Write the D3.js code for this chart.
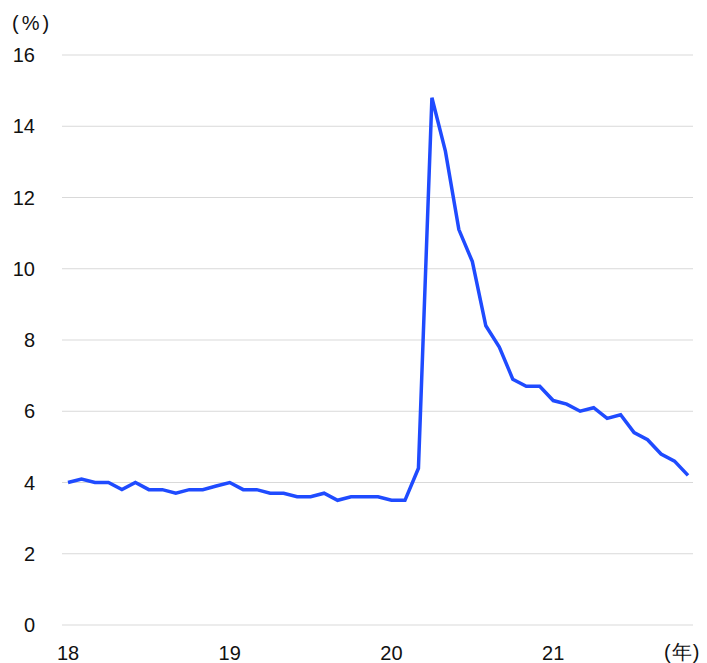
<!DOCTYPE html>
<html><head><meta charset="utf-8">
<script src="https://cdn.jsdelivr.net/npm/d3@7"></script>
<style>body{margin:0;background:#fff;}text{font-family:Arial,"Liberation Sans",sans-serif;}</style>
</head><body><svg id="c" width="707" height="663"></svg>
<script>
const values2018 = [4.0, 4.1, 4.0, 4.0, 3.8, 4.0, 3.8, 3.8, 3.7, 3.8, 3.8, 3.9];
const values2019 = [4.0, 3.8, 3.8, 3.7, 3.7, 3.6, 3.6, 3.7, 3.5, 3.6, 3.6, 3.6];
const values2020 = [3.5, 3.5, 4.4, 14.8, 13.3, 11.1, 10.2, 8.4, 7.8, 6.9, 6.7, 6.7];
const values2021 = [6.3, 6.2, 6.0, 6.1, 5.8, 5.9, 5.4, 5.2, 4.8, 4.6, 4.2];
const yTicks = [0, 2, 4, 6, 8, 10, 12, 14, 16];
const xTickLabels = ["18", "19", "20", "21"];

const data = [].concat(values2018, values2019, values2020, values2021).map((v, i) => ({i, v}));
const svg = d3.select("#c");
const x = d3.scaleLinear().domain([0, 46]).range([68, 688]);
const y = d3.scaleLinear().domain([0, 16]).range([625, 55]);

svg.append("g").selectAll("line").data(yTicks).join("line")
  .attr("x1", 62).attr("x2", 693)
  .attr("y1", d => y(d)).attr("y2", d => y(d))
  .attr("stroke", "#d9d9d9").attr("stroke-width", 1);

svg.append("g").selectAll("text").data(yTicks).join("text")
  .attr("x", 35).attr("y", d => y(d)).attr("dy", "0.36em")
  .attr("text-anchor", "end").attr("font-size", 20).attr("fill", "#111")
  .text(d => d);

svg.append("text").attr("x", 12).attr("y", 30).attr("font-size", 20)
  .attr("letter-spacing", 3).attr("fill", "#111").text("(%)");

svg.append("g").selectAll("text").data(xTickLabels).join("text")
  .attr("x", (d, i) => x(i * 12)).attr("y", 660)
  .attr("text-anchor", "middle").attr("font-size", 20).attr("fill", "#111")
  .text(d => d);
svg.append("text").attr("x", 664).attr("y", 659)
  .attr("font-size", 20).attr("letter-spacing", 1).attr("fill", "#111").text("(年)");

svg.append("path").datum(data)
  .attr("fill", "none").attr("stroke", "#1f4bff").attr("stroke-width", 3.5)
  .attr("stroke-linejoin", "miter")
  .attr("d", d3.line().x(d => x(d.i)).y(d => y(d.v)));
</script></body></html>
